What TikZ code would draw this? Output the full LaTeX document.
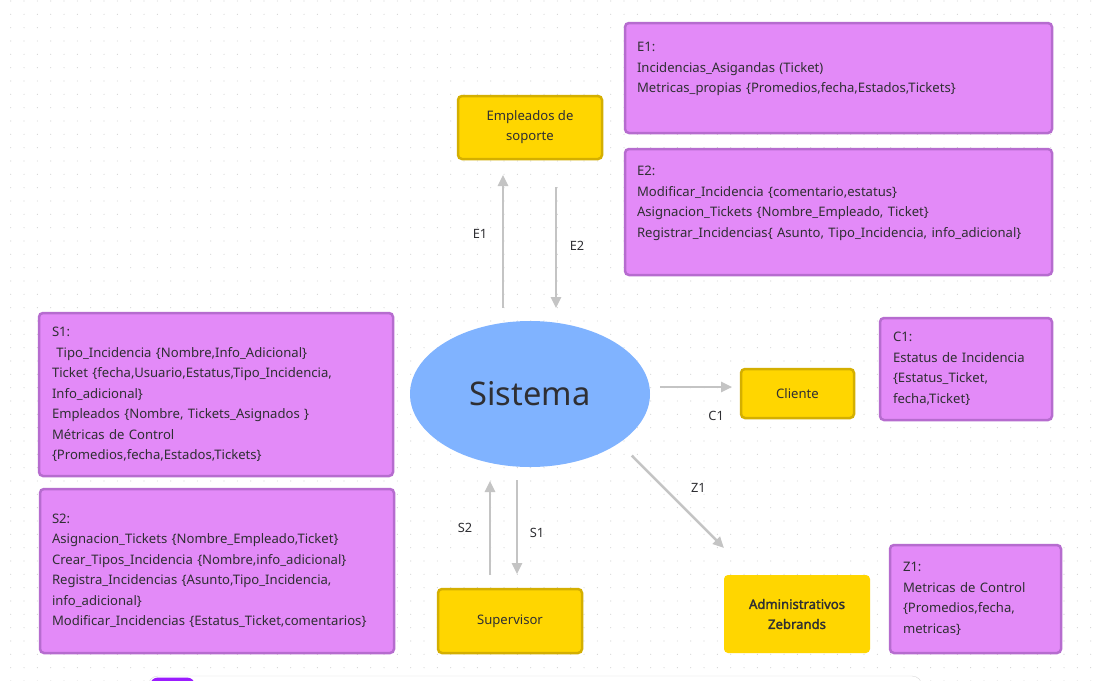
\documentclass[tikz,border=0pt]{standalone}
\usepackage{fontspec}
\setmainfont{Noto Sans}[AutoFakeBold=2]
\usepackage{tikz}
\usetikzlibrary{shapes,arrows.meta}
\definecolor{panelfill}{HTML}{E38AF8}
\definecolor{paneldraw}{HTML}{B66CCF}
\definecolor{actorfill}{HTML}{FFD600}
\definecolor{actordraw}{HTML}{D4AF00}
\definecolor{sysfill}{HTML}{80B3FF}
\definecolor{flow}{HTML}{C4C4C4}
\definecolor{ink}{HTML}{2F2F33}
\definecolor{dotgrey}{HTML}{D4D4D4}
\definecolor{barpurple}{HTML}{9B1CFF}
\tikzstyle{panel} = [rectangle, draw=paneldraw, line width=2.5pt, fill=panelfill,
rounded corners=4pt, align=left, text=ink, inner xsep=12pt, inner ysep=0pt,
outer sep=0pt, anchor=north west, font=\fontsize{13.1}{20.5}\selectfont]
\tikzstyle{actor} = [rectangle, draw=actordraw, line width=2.5pt, fill=actorfill,
rounded corners=4pt, align=center, text=ink, outer sep=0pt, anchor=north west,
font=\fontsize{13.1}{20}\selectfont]
\tikzstyle{system} = [ellipse, fill=sysfill, text=ink, outer sep=0pt,
minimum width=240pt, minimum height=146pt, font=\fontsize{32.6}{38}\selectfont]
\tikzstyle{line} = [draw=flow, line width=2.5pt, -{Triangle[width=10pt,length=11pt]}]
\tikzstyle{flowlabel} = [text=ink, font=\fontsize{12.8}{15}\selectfont]

\begin{document}
\begin{tikzpicture}[x=1pt, y=-1pt]
    \useasboundingbox (0,0) rectangle (1097,680);
    \fill[white] (0,0) rectangle (1097,680);
    % dot grid
    \foreach \i in {0,...,82}
      \foreach \j in {0,...,51}
        \fill[dotgrey] (10.7+13.333*\i, 1+13.333*\j) circle (0.6pt);
    % toolbar at the bottom edge
    \begin{scope}
      \clip (0,0) rectangle (1097,680);
      \draw[black!15, fill=white, rounded corners=10pt] (148,676) rectangle (922,720);
      \fill[barpurple, rounded corners=8pt] (150,677.5) rectangle (195,720);
    \end{scope}

    % Place nodes
    \node [system] (sis) at (530,394) {Sistema};
    \node [actor, minimum width=144pt, minimum height=63pt] (emp) at (458,96)
    {Empleados de\\soporte};
    \node [actor, minimum width=113pt, minimum height=49pt] (cli) at (741,369)
    {Cliente};
    \node [actor, minimum width=144pt, minimum height=64pt] (sup) at (438,589)
    {Supervisor};
    \node [actor, draw=none, minimum width=146pt, minimum height=78pt,
    font=\fontsize{13.1}{20}\selectfont\bfseries] (adm) at (724,575)
    {Administrativos\\Zebrands};

    \node [panel, text width=403pt, minimum height=110pt] (e1) at (625,23)
    {E1:\\Incidencias\_Asigandas (Ticket)\\
    Metricas\_propias \{Promedios,fecha,Estados,Tickets\}\\~};
    \node [panel, text width=403pt, minimum height=126pt] (e2) at (625,149)
    {E2:\\Modificar\_Incidencia \{comentario,estatus\}\\
    Asignacion\_Tickets \{Nombre\_Empleado, Ticket\}\\
    Registrar\_Incidencias\{ Asunto, Tipo\_Incidencia, info\_adicional\}\\~};
    \node [panel, inner xsep=13pt, text width=328pt, minimum height=163pt] (s1)
    at (39,313)
    {S1:\\\ Tipo\_Incidencia \{Nombre,Info\_Adicional\}\\
    Ticket \{fecha,Usuario,Estatus,Tipo\_Incidencia,\\
    Info\_adicional\}\\
    Empleados \{Nombre, Tickets\_Asignados \}\\
    Métricas de Control\\
    \{Promedios,fecha,Estados,Tickets\}};
    \node [panel, text width=330pt, minimum height=164pt] (s2) at (40,489)
    {S2:\\Asignacion\_Tickets \{Nombre\_Empleado,Ticket\}\\
    Crear\_Tipos\_Incidencia \{Nombre,info\_adicional\}\\
    Registra\_Incidencias \{Asunto,Tipo\_Incidencia,\\
    info\_adicional\}\\
    Modificar\_Incidencias \{Estatus\_Ticket,comentarios\}};
    \node [panel, inner xsep=13pt, text width=146pt, minimum height=102pt] (c1)
    at (880,318)
    {C1:\\Estatus de Incidencia\\\{Estatus\_Ticket,\\fecha,Ticket\}};
    \node [panel, inner xsep=13pt, text width=145pt, minimum height=108pt] (z1)
    at (890,545)
    {Z1:\\Metricas de Control\\\{Promedios,fecha,\\metricas\}};

    % Draw edges
    \path [line] ([shift={(-27,-13)}]sis.north) -- ([shift={(-27,16)}]emp.south)
      node [flowlabel, pos=.556, xshift=-23pt] {E1};
    \path [line] ([shift={(26,28)}]emp.south) -- ([shift={(26,-13)}]sis.north)
      node [flowlabel, pos=.49, xshift=21pt] {E2};
    \path [line] ([shift={(10,-7)}]sis.east) -- ([shift={(-9,-6.5)}]cli.west)
      node [flowlabel, pos=.78, yshift=-29pt] {C1};
    \path [line] ([shift={(17,10)}]sis.south east) -- ([shift={(0,-27)}]adm.north west)
      node [flowlabel, pos=.45, xshift=25pt, yshift=9pt] {Z1};
    \path [line] ([shift={(-20,-14)}]sup.north) -- ([shift={(-40,14)}]sis.south)
      node [flowlabel, pos=.5, xshift=-25pt] {S2};
    \path [line] ([shift={(-13,13)}]sis.south) -- ([shift={(7,-15)}]sup.north)
      node [flowlabel, pos=.56, xshift=20pt] {S1};
\end{tikzpicture}
\end{document}
